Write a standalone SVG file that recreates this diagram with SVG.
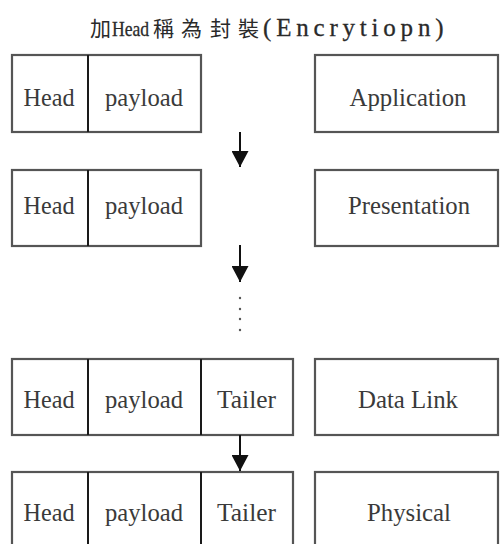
<svg xmlns="http://www.w3.org/2000/svg" width="501" height="544" viewBox="0 0 501 544">
  <style>
    .frame { fill: #ffffff; stroke: #555555; stroke-width: 2.2; }
    .div { stroke: #1a1a1a; stroke-width: 2; }
    .lbl { font-family: "Liberation Serif", "DejaVu Serif", serif; font-size: 26px; fill: #3a3a3a; text-anchor: middle; }
    .ttl { font-family: "Liberation Serif", "DejaVu Serif", serif; fill: #2a2a2a; stroke: #2a2a2a; stroke-width: 0.3; }
    .cjk { font-family: "Noto Sans CJK TC", "Noto Sans CJK SC", sans-serif; font-size: 21px; fill: #2a2a2a; }
    .conn { stroke: #111111; stroke-width: 2; fill: none; }
    .dot { fill: #555555; }
  </style>
  <defs>
    <marker id="arrowhead" viewBox="0 0 16 17" refX="16" refY="8.5" markerWidth="16" markerHeight="17" markerUnits="userSpaceOnUse" orient="auto">
      <path d="M0,0 L16,8.5 L0,17 Z" fill="#111111"/>
    </marker>
  </defs>

  <g id="title">
    <text class="cjk" x="90" y="36">加</text>
    <text class="ttl" font-size="22" transform="translate(112,36) scale(0.8,1)">Head</text>
    <text class="cjk" x="153" y="36">稱</text>
    <text class="cjk" x="181" y="36">為</text>
    <text class="cjk" x="210" y="36">封</text>
    <text class="cjk" x="238" y="36">裝</text>
    <text class="ttl" x="263" y="36" font-size="25" letter-spacing="4.8">(Encrytiopn)</text>
  </g>

  <!-- frame stack, one row per layer -->
  <g id="frame-application">
    <rect class="frame" x="12" y="55" width="189" height="77"/>
    <line class="div" x1="88" y1="55" x2="88" y2="132"/>
    <text class="lbl" x="49" y="106" textLength="51" lengthAdjust="spacingAndGlyphs">Head</text>
    <text class="lbl" x="144" y="106" textLength="78" lengthAdjust="spacingAndGlyphs">payload</text>
  </g>
  <g id="layer-application">
    <rect class="frame" x="315" y="55" width="183" height="77"/>
    <text class="lbl" x="408" y="106" textLength="117" lengthAdjust="spacingAndGlyphs">Application</text>
  </g>

  <g id="frame-presentation">
    <rect class="frame" x="12" y="170" width="189" height="76"/>
    <line class="div" x1="88" y1="170" x2="88" y2="246"/>
    <text class="lbl" x="49" y="214" textLength="51" lengthAdjust="spacingAndGlyphs">Head</text>
    <text class="lbl" x="144" y="214" textLength="78" lengthAdjust="spacingAndGlyphs">payload</text>
  </g>
  <g id="layer-presentation">
    <rect class="frame" x="315" y="170" width="183" height="76"/>
    <text class="lbl" x="409" y="214" textLength="122" lengthAdjust="spacingAndGlyphs">Presentation</text>
  </g>

  <g id="frame-datalink">
    <rect class="frame" x="12" y="359" width="281" height="76"/>
    <line class="div" x1="88" y1="359" x2="88" y2="435"/>
    <line class="div" x1="201" y1="359" x2="201" y2="435"/>
    <text class="lbl" x="49" y="408" textLength="51" lengthAdjust="spacingAndGlyphs">Head</text>
    <text class="lbl" x="144" y="408" textLength="78" lengthAdjust="spacingAndGlyphs">payload</text>
    <text class="lbl" x="246.5" y="408" textLength="59" lengthAdjust="spacingAndGlyphs">Tailer</text>
  </g>
  <g id="layer-datalink">
    <rect class="frame" x="315" y="359" width="183" height="76"/>
    <text class="lbl" x="408" y="408" textLength="100" lengthAdjust="spacingAndGlyphs">Data Link</text>
  </g>

  <g id="frame-physical">
    <rect class="frame" x="12" y="472" width="281" height="76"/>
    <line class="div" x1="88" y1="472" x2="88" y2="548"/>
    <line class="div" x1="201" y1="472" x2="201" y2="548"/>
    <text class="lbl" x="49" y="521" textLength="51" lengthAdjust="spacingAndGlyphs">Head</text>
    <text class="lbl" x="144" y="521" textLength="78" lengthAdjust="spacingAndGlyphs">payload</text>
    <text class="lbl" x="246.5" y="521" textLength="59" lengthAdjust="spacingAndGlyphs">Tailer</text>
  </g>
  <g id="layer-physical">
    <rect class="frame" x="315" y="472" width="183" height="76"/>
    <text class="lbl" x="409" y="521" textLength="84" lengthAdjust="spacingAndGlyphs">Physical</text>
  </g>

  <g id="connectors">
    <line class="conn" x1="240" y1="132" x2="240" y2="167" marker-end="url(#arrowhead)"/>
    <line class="conn" x1="240" y1="245" x2="240" y2="282" marker-end="url(#arrowhead)"/>
    <circle class="dot" cx="240" cy="298" r="1.2"/>
    <circle class="dot" cx="240" cy="309" r="1.2"/>
    <circle class="dot" cx="240" cy="319" r="1.2"/>
    <circle class="dot" cx="240" cy="330" r="1.2"/>
    <line class="conn" x1="240" y1="435" x2="240" y2="471" marker-end="url(#arrowhead)"/>
  </g>
</svg>
